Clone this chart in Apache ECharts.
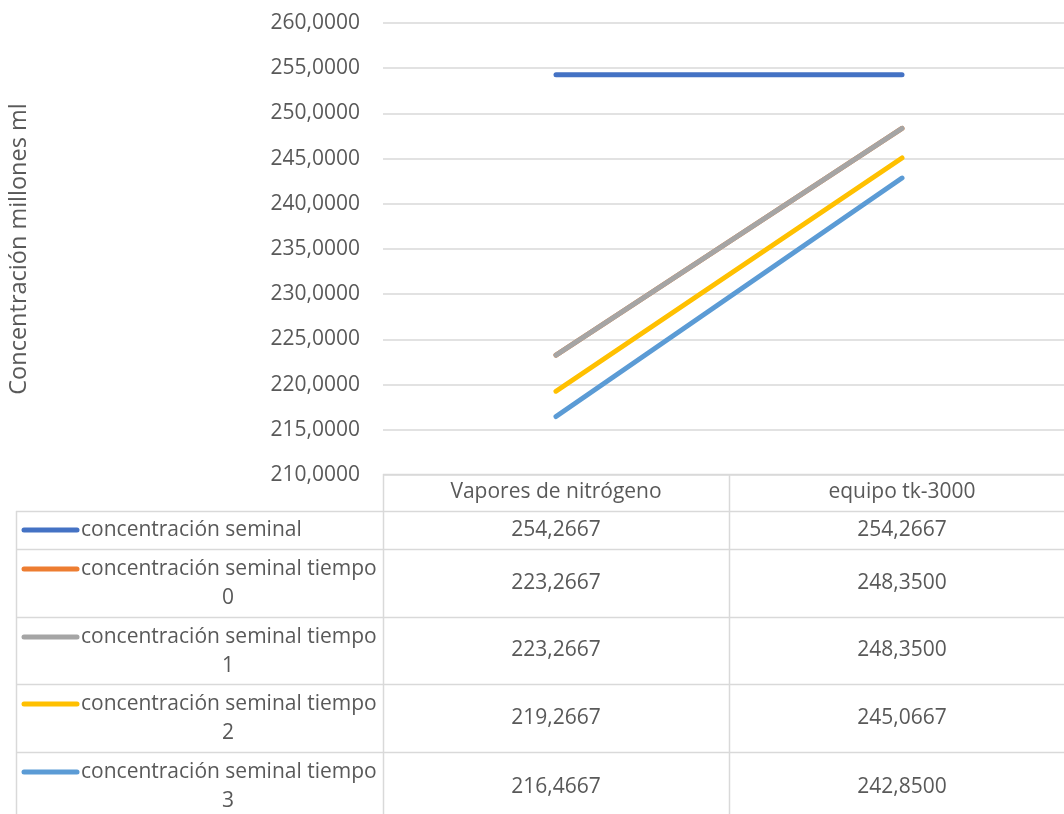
<!DOCTYPE html>
<html>
<head>
<meta charset="utf-8">
<script src="https://cdn.jsdelivr.net/npm/echarts@6/dist/echarts.min.js"></script>
<style>html,body{margin:0;padding:0;background:#fff}#c{width:1064px;height:814px}</style>
</head>
<body>
<div id="c"></div>
<script>
const categories = ['Vapores de nitrógeno', 'equipo tk-3000'];
const seriesNames = [
  'concentración seminal',
  'concentración seminal tiempo 0',
  'concentración seminal tiempo 1',
  'concentración seminal tiempo 2',
  'concentración seminal tiempo 3'
];
const s0 = [254.2667, 254.2667];
const s1 = [223.2667, 248.3500];
const s2 = [223.2667, 248.3500];
const s3 = [219.2667, 245.0667];
const s4 = [216.4667, 242.8500];
const seriesValues = [s0, s1, s2, s3, s4];
const colors = ['#4472C4', '#ED7D31', '#A5A5A5', '#FFC000', '#5B9BD5'];
const yTitle = 'Concentración millones ml';

const FONT = '"Open Sans", sans-serif';
const FS = 21;
const TXT = '#595959';
const GRIDC = '#d9d9d9';
const fmt = v => v.toFixed(4).replace('.', ',');

const chart = echarts.init(document.getElementById('c'));
const option = {
  animation: false,
  color: colors,
  grid: { left: 383, right: -11, top: 23, bottom: 339, containLabel: false, outerBoundsMode: 'none' },
  xAxis: {
    type: 'category', data: categories, boundaryGap: true,
    axisLine: { show: false }, axisTick: { show: false }, axisLabel: { show: false }
  },
  yAxis: {
    type: 'value', min: 210, max: 260, interval: 5,
    name: yTitle, nameLocation: 'middle', nameGap: 352, nameRotate: 90,
    nameTextStyle: { color: TXT, fontFamily: FONT, fontSize: 23.5 },
    axisLine: { show: false }, axisTick: { show: false },
    axisLabel: { color: TXT, fontFamily: FONT, fontSize: FS, margin: 23, formatter: v => fmt(v) },
    splitLine: { lineStyle: { color: GRIDC, width: 1.5 } }
  },
  series: seriesValues.map((d, i) => ({
    name: seriesNames[i], type: 'line', data: d, showSymbol: false, symbol: 'none',
    lineStyle: { width: 5, color: colors[i], cap: 'round' }, z: 2 + i
  }))
};
chart.setOption(option);

// data table drawn below the plot
const rowTops = [474, 511, 549, 617, 684, 752, 822];
const tableLeft = 16, colStart = 383, right = 1080;
const cx = categories.map(c => chart.convertToPixel({ xAxisIndex: 0 }, c));
const colSep = (cx[0] + cx[1]) / 2;
const g = [];
const hline = (x1, x2, y) => g.push({ type: 'line', shape: { x1, y1: y + 0.5, x2, y2: y + 0.5 }, style: { stroke: GRIDC, lineWidth: 1.5 }, silent: true });
const vline = (x, y1, y2) => g.push({ type: 'line', shape: { x1: x + 0.5, y1, x2: x + 0.5, y2 }, style: { stroke: GRIDC, lineWidth: 1.5 }, silent: true });
hline(colStart, right, rowTops[0]);
for (let r = 1; r < rowTops.length; r++) hline(tableLeft, right, rowTops[r]);
vline(colStart, rowTops[0], rowTops[rowTops.length - 1]);
vline(colSep, rowTops[0], rowTops[rowTops.length - 1]);
vline(tableLeft, rowTops[1], rowTops[rowTops.length - 1]);
const font = FS + 'px ' + FONT;
categories.forEach((c, i) => g.push({ type: 'text', x: cx[i], y: (rowTops[0] + rowTops[1]) / 2, style: { text: c, fill: TXT, font, align: 'center', verticalAlign: 'middle' }, silent: true }));
seriesNames.forEach((name, r) => {
  const top = rowTops[r + 1], bot = rowTops[r + 2], mid = (top + bot) / 2;
  seriesValues[r].forEach((v, i) => g.push({ type: 'text', x: cx[i], y: mid, style: { text: fmt(v), fill: TXT, font, align: 'center', verticalAlign: 'middle' }, silent: true }));
  const words = name.split(' ');
  const lines = words.length > 2 ? [words.slice(0, 3).join(' '), words.slice(3).join(' ')] : [name];
  const keyY = lines.length > 1 ? top + 20 : mid;
  g.push({ type: 'line', shape: { x1: 24, y1: keyY, x2: 77, y2: keyY }, style: { stroke: colors[r], lineWidth: 5, lineCap: 'round' }, silent: true });
  if (lines.length === 1) {
    g.push({ type: 'text', x: 81, y: mid, style: { text: lines[0], fill: TXT, font, align: 'left', verticalAlign: 'middle' }, silent: true });
  } else {
    g.push({ type: 'text', x: 81, y: top + 20, style: { text: lines[0], fill: TXT, font, align: 'left', verticalAlign: 'middle' }, silent: true });
    g.push({ type: 'text', x: 228, y: top + 49, style: { text: lines[1], fill: TXT, font, align: 'center', verticalAlign: 'middle' }, silent: true });
  }
});
chart.setOption({ graphic: { elements: g } });
</script>
</body>
</html>
